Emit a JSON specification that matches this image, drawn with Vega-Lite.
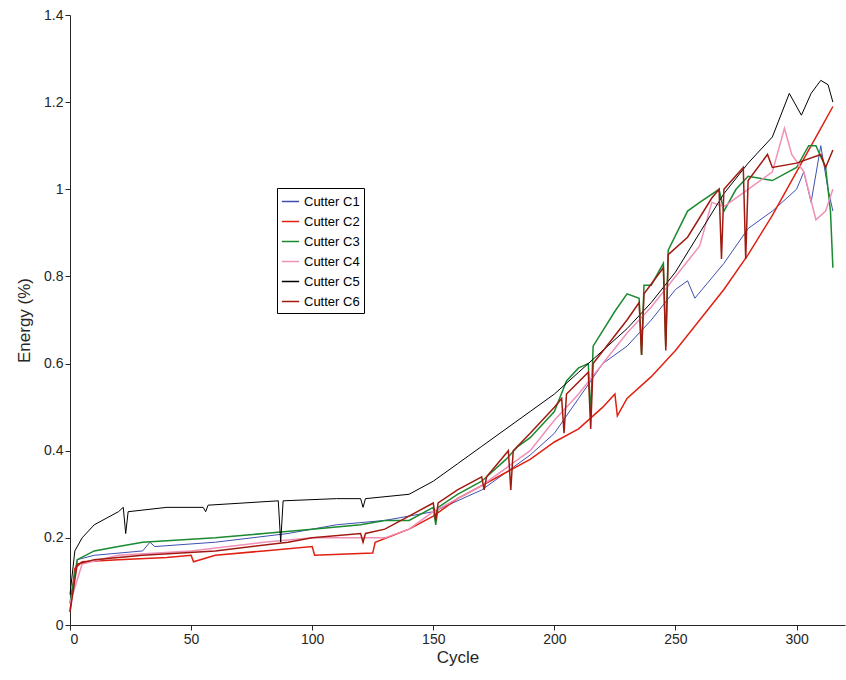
{
  "$schema": "https://vega.github.io/schema/vega-lite/v6.json",
  "width": 775,
  "height": 610,
  "autosize": "none",
  "padding": {"left": 70, "top": 15, "right": 1, "bottom": 55},
  "background": "white",
  "datasets": {
    "C1": [[0,0.05],[3,0.15],[10,0.16],[30,0.17],[33,0.19],[35,0.18],[60,0.19],[90,0.21],[110,0.23],[130,0.24],[150,0.26],[170,0.31],[190,0.39],[200,0.44],[210,0.52],[220,0.6],[230,0.64],[240,0.7],[250,0.77],[255,0.79],[258,0.75],[270,0.83],[280,0.91],[290,0.95],[300,1.0],[303,1.04],[306,0.97],[310,1.1],[313,1.0],[315,0.95]],
    "C2": [[0,0.03],[2,0.13],[5,0.145],[20,0.15],[40,0.155],[50,0.16],[51,0.145],[60,0.16],[80,0.17],[100,0.18],[101,0.16],[125,0.165],[126,0.19],[140,0.22],[150,0.25],[160,0.29],[170,0.32],[180,0.35],[190,0.38],[200,0.42],[210,0.45],[220,0.5],[225,0.53],[226,0.48],[230,0.52],[240,0.57],[250,0.63],[260,0.7],[270,0.77],[280,0.85],[290,0.94],[300,1.04],[310,1.14],[315,1.19]],
    "C3": [[0,0.05],[3,0.15],[10,0.17],[20,0.18],[30,0.19],[60,0.2],[80,0.21],[100,0.22],[120,0.23],[130,0.24],[140,0.24],[150,0.27],[151,0.23],[152,0.27],[160,0.3],[170,0.33],[180,0.38],[185,0.41],[190,0.43],[200,0.49],[205,0.56],[210,0.59],[214,0.6],[215,0.48],[216,0.64],[225,0.72],[230,0.76],[235,0.75],[236,0.62],[237,0.78],[240,0.78],[245,0.83],[246,0.64],[247,0.86],[255,0.95],[260,0.97],[268,1.0],[270,0.95],[275,1.0],[280,1.03],[290,1.02],[300,1.05],[305,1.1],[308,1.1],[312,1.05],[314,0.95],[315,0.82]],
    "C4": [[0,0.05],[5,0.14],[20,0.16],[50,0.17],[80,0.19],[100,0.2],[130,0.2],[140,0.22],[150,0.26],[170,0.32],[190,0.4],[200,0.47],[210,0.53],[220,0.6],[230,0.67],[240,0.73],[250,0.8],[260,0.87],[265,0.97],[270,0.96],[280,1.0],[290,1.04],[295,1.14],[298,1.08],[303,1.04],[308,0.93],[312,0.95],[315,1.0]],
    "C5": [[0,0.07],[2,0.17],[5,0.2],[10,0.23],[20,0.26],[22,0.27],[23,0.21],[24,0.26],[40,0.27],[55,0.27],[56,0.26],[57,0.275],[86,0.285],[87,0.19],[88,0.285],[110,0.29],[120,0.29],[121,0.27],[122,0.29],[140,0.3],[150,0.33],[160,0.37],[170,0.41],[180,0.45],[190,0.49],[200,0.53],[210,0.58],[220,0.63],[230,0.68],[240,0.74],[250,0.81],[260,0.9],[270,0.99],[280,1.06],[290,1.12],[297,1.22],[302,1.17],[306,1.22],[310,1.25],[313,1.24],[315,1.2]],
    "C6": [[0,0.03],[3,0.14],[10,0.15],[30,0.16],[60,0.17],[90,0.19],[100,0.2],[120,0.21],[121,0.19],[122,0.21],[130,0.22],[140,0.25],[150,0.28],[151,0.24],[152,0.28],[160,0.31],[170,0.34],[171,0.31],[172,0.34],[181,0.4],[182,0.31],[183,0.4],[190,0.44],[200,0.5],[203,0.52],[204,0.44],[205,0.53],[214,0.58],[215,0.45],[216,0.6],[230,0.7],[235,0.74],[236,0.62],[237,0.76],[245,0.82],[246,0.63],[247,0.85],[255,0.89],[265,0.98],[268,1.0],[269,0.84],[270,1.0],[278,1.05],[279,0.84],[280,1.02],[288,1.08],[290,1.05],[300,1.06],[310,1.08],[312,1.05],[315,1.09]]
  },
  "layer": [
    {"data": {"name": "C1"}, "transform": [{"calculate": "'Cutter C1'", "as": "s"}], "mark": {"type": "line", "strokeWidth": 1}, "encoding": {}},
    {"data": {"name": "C2"}, "transform": [{"calculate": "'Cutter C2'", "as": "s"}], "mark": {"type": "line", "strokeWidth": 1.5}, "encoding": {}},
    {"data": {"name": "C3"}, "transform": [{"calculate": "'Cutter C3'", "as": "s"}], "mark": {"type": "line", "strokeWidth": 1.5}, "encoding": {}},
    {"data": {"name": "C4"}, "transform": [{"calculate": "'Cutter C4'", "as": "s"}], "mark": {"type": "line", "strokeWidth": 1.5}, "encoding": {}},
    {"data": {"name": "C5"}, "transform": [{"calculate": "'Cutter C5'", "as": "s"}], "mark": {"type": "line", "strokeWidth": 1}, "encoding": {}},
    {"data": {"name": "C6"}, "transform": [{"calculate": "'Cutter C6'", "as": "s"}], "mark": {"type": "line", "strokeWidth": 1.5}, "encoding": {}}
  ],
  "encoding": {
    "x": {"field": "0", "type": "quantitative", "scale": {"domain": [0, 320], "nice": false}, "axis": {"title": "Cycle", "values": [0,50,100,150,200,250,300]}},
    "y": {"field": "1", "type": "quantitative", "scale": {"domain": [0, 1.4], "nice": false}, "axis": {"title": "Energy (%)", "values": [0,0.2,0.4,0.6,0.8,1,1.2,1.4], "format": "~g"}},
    "color": {"field": "s", "type": "nominal",
      "scale": {"domain": ["Cutter C1","Cutter C2","Cutter C3","Cutter C4","Cutter C5","Cutter C6"], "range": ["#3F4FB0","#E02010","#1A8A30","#F090B8","#000000","#A01A10"]},
      "legend": {"title": null, "orient": "none", "legendX": 207, "legendY": 173, "strokeColor": "#000", "fillColor": "white", "padding": 4, "symbolType": "stroke", "symbolSize": 300, "symbolStrokeWidth": 1.5, "labelFontSize": 13, "labelColor": "#000", "rowPadding": 3}}
  },
  "config": {
    "font": "Liberation Sans",
    "view": {"stroke": null},
    "axis": {"grid": false, "domainColor": "#262626", "tickColor": "#262626", "tickSize": 5, "ticks": true, "labelFontSize": 14, "labelColor": "#262626", "titleFontSize": 17, "titleFontWeight": "normal", "titleColor": "#262626"},
    "axisX": {"titlePadding": 3},
    "axisY": {"titlePadding": 10}
  }
}
